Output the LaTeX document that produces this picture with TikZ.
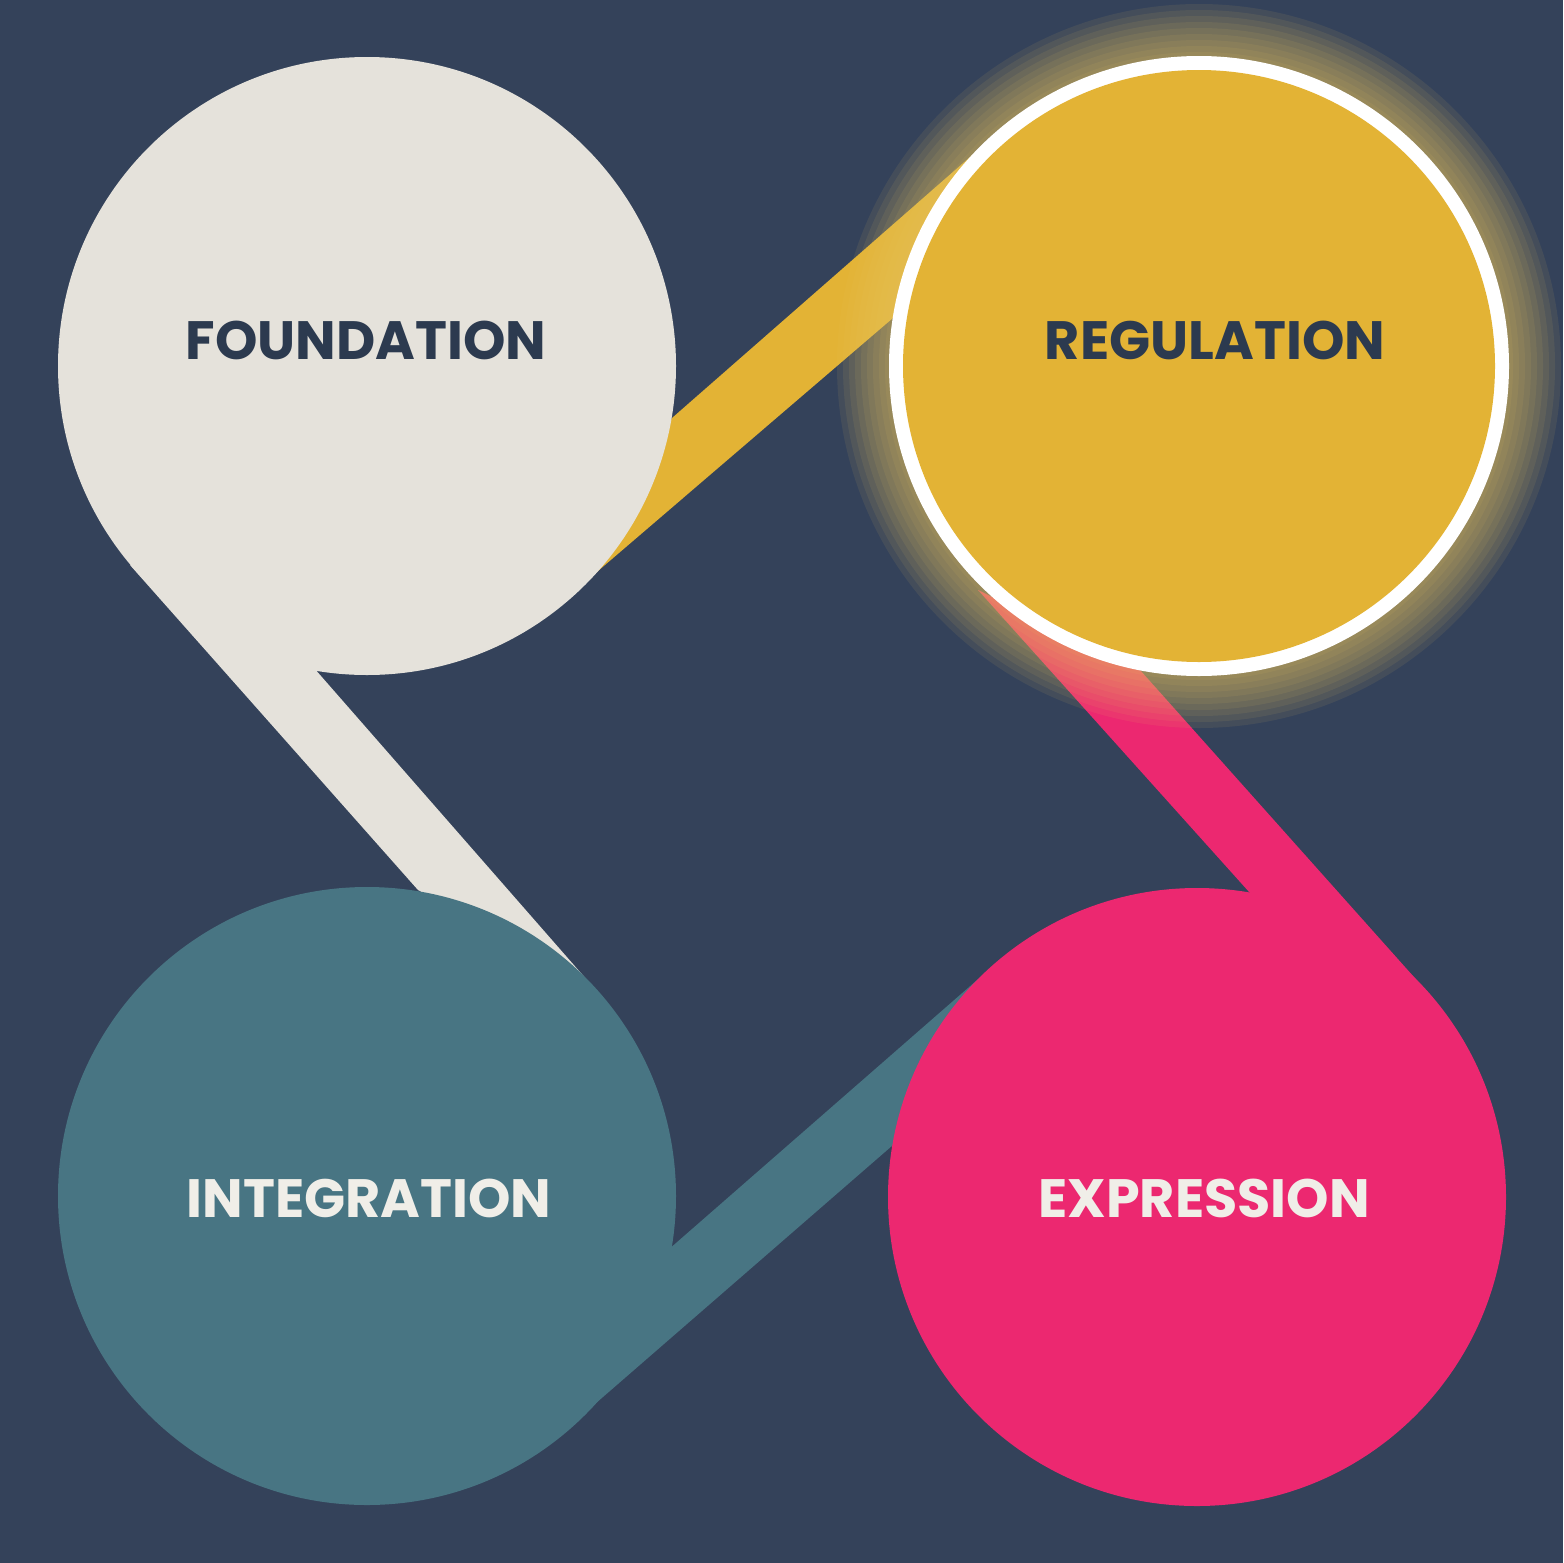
\documentclass[tikz,border=0pt]{standalone}
\usepackage{fontspec}
\setmainfont{Poppins}
\definecolor{bg}{HTML}{34425A}
\definecolor{beige}{HTML}{E5E2DB}
\definecolor{gold}{HTML}{E3B335}
\definecolor{pink}{HTML}{EC2870}
\definecolor{teal}{HTML}{487583}
\definecolor{darktxt}{HTML}{2C3A4F}
\definecolor{lighttxt}{HTML}{F0EEE8}
\definecolor{glow}{HTML}{E8C560}
\begin{document}
\begin{tikzpicture}[x=0.5pt,y=-0.5pt,
  lbl/.style={font=\fontsize{27}{27}\selectfont\bfseries}]
\fill[bg] (0,0) rectangle (1563,1563);
\useasboundingbox (0,0) rectangle (1563,1563);
% bands
\fill[beige] (130,565) -- (418,890) -- (594,988) -- (314,668) -- cycle;
\fill[gold] (672,418) -- (978,150) -- (893,318) -- (570,595) -- cycle;
\fill[pink] (978,590) -- (1250,893) -- (1430,995) -- (1140,670) -- cycle;
\fill[teal] (668,1250) -- (1000,960) -- (893,1145) -- (565,1430) -- cycle;
% glow
\foreach \r in {362,356,350,344,338,332,326,320,314}
  \fill[glow,fill opacity=0.09] (1199,366) circle (\r);
% circles
\fill[beige] (367,366) coordinate (fc) circle (309);
\fill[teal] (367,1196) circle (309);
\fill[pink] (1197,1197) circle (309);
\fill[white] (1199,366) circle (310);
\fill[gold] (1199,366) circle (296);
% labels
\node[lbl,text=darktxt] (found) at (366,340) {FOUNDATION};
\node[lbl,text=darktxt] (reg) at (1215,340) {REGULATION};
\node[lbl,text=lighttxt] (integ) at (369,1198) {INTEGRATION};
\node[lbl,text=lighttxt] (expr) at (1204,1198) {EXPRESSION};
\end{tikzpicture}
\end{document}
